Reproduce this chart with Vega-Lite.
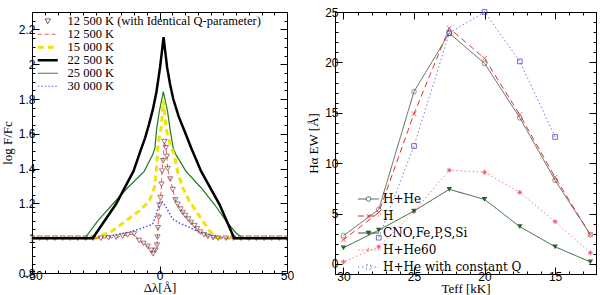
{
  "$schema": "https://vega.github.io/schema/vega-lite/v6.json",
  "padding": {"left": 0, "top": 5, "right": 3, "bottom": 0},
  "resolve": {"scale": {"color": "independent", "strokeDash": "independent", "shape": "independent", "stroke": "independent"}, "legend": {"color": "independent"}},
  "datasets": {
    "left": [
      {"s":"D","x":-50,"y":1.0},{"s":"D","x":-26.2,"y":1.0},{"s":"D","x":-17.1,"y":1.195},{"s":"D","x":-10.2,"y":1.385},{"s":"D","x":-7.5,"y":1.5},{"s":"D","x":-5.7,"y":1.574},{"s":"D","x":-4.2,"y":1.65},{"s":"D","x":-2.6,"y":1.74},{"s":"D","x":-1.2,"y":1.84},{"s":"D","x":0.2,"y":1.98},{"s":"D","x":1.0,"y":2.08},{"s":"D","x":1.6,"y":2.155},{"s":"D","x":2.2,"y":2.08},{"s":"D","x":3.0,"y":1.98},{"s":"D","x":4.2,"y":1.88},{"s":"D","x":5.4,"y":1.8},{"s":"D","x":7.5,"y":1.7},{"s":"D","x":9.7,"y":1.62},{"s":"D","x":12.4,"y":1.52},{"s":"D","x":16.3,"y":1.385},{"s":"D","x":23.5,"y":1.195},{"s":"D","x":29.3,"y":1.0},{"s":"D","x":50,"y":1.0},
      {"s":"E","x":-50,"y":1.0},{"s":"E","x":-29.6,"y":1.0},{"s":"E","x":-28.2,"y":1.02},{"s":"E","x":-24.2,"y":1.1},{"s":"E","x":-18.4,"y":1.195},{"s":"E","x":-12.5,"y":1.29},{"s":"E","x":-6,"y":1.384},{"s":"E","x":-2.7,"y":1.479},{"s":"E","x":-1.8,"y":1.517},{"s":"E","x":-1.1,"y":1.63},{"s":"E","x":-0.1,"y":1.726},{"s":"E","x":1.5,"y":1.843},{"s":"E","x":3.2,"y":1.726},{"s":"E","x":4.1,"y":1.63},{"s":"E","x":5.4,"y":1.517},{"s":"E","x":6.5,"y":1.479},{"s":"E","x":10.4,"y":1.384},{"s":"E","x":16.3,"y":1.29},{"s":"E","x":21.5,"y":1.195},{"s":"E","x":26.1,"y":1.1},{"s":"E","x":30,"y":1.03},{"s":"E","x":32.7,"y":1.0},{"s":"E","x":50,"y":1.0},
      {"s":"C","x":-50,"y":1.0},{"s":"C","x":-25,"y":1.0},{"s":"C","x":-23.5,"y":1.01},{"s":"C","x":-18.3,"y":1.044},{"s":"C","x":-13.1,"y":1.1},{"s":"C","x":-7.9,"y":1.157},{"s":"C","x":-4.0,"y":1.214},{"s":"C","x":-2.0,"y":1.29},{"s":"C","x":-1.2,"y":1.4},{"s":"C","x":-0.5,"y":1.55},{"s":"C","x":0.6,"y":1.63},{"s":"C","x":1.6,"y":1.79},{"s":"C","x":2.6,"y":1.63},{"s":"C","x":4.0,"y":1.55},{"s":"C","x":5.8,"y":1.479},{"s":"C","x":7.1,"y":1.384},{"s":"C","x":9.1,"y":1.29},{"s":"C","x":11.7,"y":1.214},{"s":"C","x":14.3,"y":1.157},{"s":"C","x":16.9,"y":1.1},{"s":"C","x":19.5,"y":1.044},{"s":"C","x":22.2,"y":1.006},{"s":"C","x":24,"y":1.0},{"s":"C","x":50,"y":1.0},
      {"s":"F","x":-50,"y":1.0},{"s":"F","x":-30,"y":1.0},{"s":"F","x":-21,"y":1.008},{"s":"F","x":-15.8,"y":1.024},{"s":"F","x":-11.8,"y":1.035},{"s":"F","x":-7.9,"y":1.053},{"s":"F","x":-2.7,"y":1.08},{"s":"F","x":-1.2,"y":1.14},{"s":"F","x":0,"y":1.2},{"s":"F","x":1.0,"y":1.21},{"s":"F","x":2.5,"y":1.18},{"s":"F","x":5.2,"y":1.11},{"s":"F","x":8,"y":1.085},{"s":"F","x":10.4,"y":1.072},{"s":"F","x":15.6,"y":1.034},{"s":"F","x":20.9,"y":1.015},{"s":"F","x":25,"y":1.003},{"s":"F","x":30,"y":1.0},{"s":"F","x":50,"y":1.0}
    ],
    "tri": [
      {"x":-50,"y":1},{"x":-47,"y":1},{"x":-44,"y":1},{"x":-41,"y":1},{"x":-38,"y":1},{"x":-35,"y":1},{"x":-32,"y":1},{"x":-29,"y":1},{"x":-26,"y":1},{"x":-23,"y":1},{"x":-20,"y":1.002},{"x":-17,"y":1.005},{"x":-14.5,"y":1.012},{"x":-12.5,"y":1.019},{"x":-10,"y":1.024},{"x":-8,"y":0.987},{"x":-6.3,"y":0.97},{"x":-4.6,"y":0.953},{"x":-3.3,"y":0.93},{"x":-2.5,"y":0.91},{"x":-1.6,"y":0.93},{"x":-1.0,"y":0.96},{"x":-0.8,"y":1.006},{"x":-0.6,"y":1.06},{"x":-0.3,"y":1.12},{"x":0,"y":1.19},{"x":0.4,"y":1.233},{"x":0.8,"y":1.31},{"x":1.0,"y":1.385},{"x":1.4,"y":1.445},{"x":1.9,"y":1.555},{"x":2.5,"y":1.52},{"x":2.9,"y":1.47},{"x":3.2,"y":1.4},{"x":4.2,"y":1.34},{"x":5.2,"y":1.28},{"x":6.2,"y":1.22},{"x":7.1,"y":1.195},{"x":8.2,"y":1.167},{"x":9.1,"y":1.148},{"x":10.1,"y":1.13},{"x":11.3,"y":1.11},{"x":12.4,"y":1.09},{"x":13.7,"y":1.072},{"x":14.7,"y":1.053},{"x":16,"y":1.035},{"x":17.5,"y":1.02},{"x":19,"y":1.01},{"x":21,"y":1.003},{"x":23,"y":1},{"x":26,"y":1},{"x":29,"y":1},{"x":32,"y":1},{"x":35,"y":1},{"x":38,"y":1},{"x":41,"y":1},{"x":44,"y":1},{"x":47,"y":1},{"x":50,"y":1}
    ],
    "right": [
      {"s":"H+He","t":30,"ew":2.8},{"s":"H+He","t":27.5,"ew":5.4},{"s":"H+He","t":25,"ew":17.1},{"s":"H+He","t":22.5,"ew":22.9},{"s":"H+He","t":20,"ew":19.9},{"s":"H+He","t":17.5,"ew":14.5},{"s":"H+He","t":15,"ew":8.3},{"s":"H+He","t":12.5,"ew":2.9},
      {"s":"H","t":30,"ew":2.4},{"s":"H","t":27.5,"ew":5.1},{"s":"H","t":25,"ew":14.9},{"s":"H","t":22.5,"ew":23.4},{"s":"H","t":20,"ew":20.4},{"s":"H","t":17.5,"ew":14.8},{"s":"H","t":15,"ew":8.6},{"s":"H","t":12.5,"ew":2.9},
      {"s":"CNO,Fe,P,S,Si","t":30,"ew":1.6},{"s":"CNO,Fe,P,S,Si","t":27.5,"ew":3.35},{"s":"CNO,Fe,P,S,Si","t":25,"ew":5.25},{"s":"CNO,Fe,P,S,Si","t":22.5,"ew":7.4},{"s":"CNO,Fe,P,S,Si","t":20,"ew":6.4},{"s":"CNO,Fe,P,S,Si","t":17.5,"ew":3.7},{"s":"CNO,Fe,P,S,Si","t":15,"ew":1.7},{"s":"CNO,Fe,P,S,Si","t":12.5,"ew":0.2},
      {"s":"H+He60","t":30,"ew":0.2},{"s":"H+He60","t":27.5,"ew":1.7},{"s":"H+He60","t":25,"ew":5.2},{"s":"H+He60","t":22.5,"ew":9.3},{"s":"H+He60","t":20,"ew":9.1},{"s":"H+He60","t":17.5,"ew":7.1},{"s":"H+He60","t":15,"ew":4.2},{"s":"H+He60","t":12.5,"ew":1.1},
      {"s":"H+He with constant Q","t":27.5,"ew":2.6},{"s":"H+He with constant Q","t":25,"ew":11.7},{"s":"H+He with constant Q","t":22.5,"ew":22.9},{"s":"H+He with constant Q","t":20,"ew":25.0},{"s":"H+He with constant Q","t":17.5,"ew":20.1},{"s":"H+He with constant Q","t":15,"ew":12.6}
    ]
  },
  "hconcat": [
    {
      "width": 255,
      "height": 261,
      "resolve": {"axis": {"x": "independent", "y": "independent"}},
      "layer": [
        {
          "data": {"name": "left"},
          "transform": [{"filter": "datum.s === 'E'"}],
          "mark": {"type": "line", "clip": true, "color": "#1f7a1f", "strokeWidth": 1.2},
          "encoding": {
            "x": {"field": "x", "type": "quantitative", "scale": {"domain": [-50, 50], "nice": false, "zero": false},
              "axis": {"title": "Δλ[Å]", "values": [-50,-45,-40,-35,-30,-25,-20,-15,-10,-5,0,5,10,15,20,25,30,35,40,45,50], "labelOverlap": false,
                "labelExpr": "datum.value % 50 === 0 ? datum.label : ''",
                "tickSize": {"condition": {"test": "datum.value % 50 === 0", "value": -7}, "value": -3},
                "labelPadding": 4, "titlePadding": -4}},
            "y": {"field": "y", "type": "quantitative", "scale": {"domain": [0.8, 2.3], "nice": false, "zero": false},
              "axis": {"title": "log F/Fc", "values": [0.8,1,1.2,1.4,1.6,1.8,2,2.2], "labelOverlap": false, "format": ".1~f",
                "tickSize": -7, "labelPadding": 4, "titlePadding": 4}},
            "order": {"field": "x", "type": "quantitative"}
          }
        },
        {
          "data": {"name": "left"},
          "transform": [{"filter": "datum.s === 'F'"}],
          "mark": {"type": "line", "clip": true, "color": "#5555dd", "strokeWidth": 1.5, "strokeDash": [1.5, 2]},
          "encoding": {
            "x": {"field": "x", "type": "quantitative", "axis": null},
            "y": {"field": "y", "type": "quantitative", "axis": {"orient": "left", "title": null, "labels": false, "domain": false, "tickSize": -3,
              "values": [0.85,0.9,0.95,1.05,1.1,1.15,1.25,1.3,1.35,1.45,1.5,1.55,1.65,1.7,1.75,1.85,1.9,1.95,2.05,2.1,2.15,2.25]}},
            "order": {"field": "x", "type": "quantitative"}
          }
        },
        {
          "data": {"name": "left"},
          "transform": [{"filter": "datum.s === 'C'"}],
          "mark": {"type": "line", "clip": true, "color": "#f2e200", "strokeWidth": 3, "strokeDash": [6, 4]},
          "encoding": {
            "x": {"field": "x", "type": "quantitative", "axis": null},
            "y": {"field": "y", "type": "quantitative", "axis": null},
            "order": {"field": "x", "type": "quantitative"}
          }
        },
        {
          "data": {"name": "tri"},
          "mark": {"type": "line", "clip": true, "color": "#e06060", "strokeDash": [4,3], "strokeWidth": 1},
          "encoding": {
            "x": {"field": "x", "type": "quantitative", "scale": {"domain": [-50, 50], "nice": false, "zero": false},
              "axis": {"orient": "top", "title": null, "labels": false, "values": [-50,-45,-40,-35,-30,-25,-20,-15,-10,-5,0,5,10,15,20,25,30,35,40,45,50],
                "tickSize": {"condition": {"test": "datum.value % 50 === 0", "value": -7}, "value": -3}}},
            "y": {"field": "y", "type": "quantitative", "scale": {"domain": [0.8, 2.3], "nice": false, "zero": false},
              "axis": {"orient": "right", "title": null, "labels": false, "values": [0.8,0.85,0.9,0.95,1,1.05,1.1,1.15,1.2,1.25,1.3,1.35,1.4,1.45,1.5,1.55,1.6,1.65,1.7,1.75,1.8,1.85,1.9,1.95,2,2.05,2.1,2.15,2.2,2.25,2.3],
                "tickSize": {"condition": {"test": "abs(datum.value*5 - round(datum.value*5)) < 0.001", "value": -7}, "value": -3}}},
            "order": {"field": "x", "type": "quantitative"}
          }
        },
        {
          "data": {"name": "tri"},
          "mark": {"type": "point", "shape": "triangle-down", "filled": false, "color": "#7a4040", "size": 28, "strokeWidth": 1, "clip": true},
          "encoding": {
            "x": {"field": "x", "type": "quantitative", "axis": null},
            "y": {"field": "y", "type": "quantitative", "axis": null}
          }
        },
        {
          "data": {"name": "left"},
          "transform": [{"filter": "datum.s === 'D'"}],
          "mark": {"type": "line", "clip": true, "strokeWidth": 2.5},
          "encoding": {
            "x": {"field": "x", "type": "quantitative", "axis": null},
            "y": {"field": "y", "type": "quantitative", "axis": null},
            "color": {"field": "s", "type": "nominal",
              "scale": {"domain": ["A","B","C","D","E","F"], "range": ["#7a4040","#e06060","#f2e200","#000000","#1f7a1f","#5555dd"]},
              "legend": {
                "orient": "none", "legendX": 9.5, "legendY": 3, "title": null,
                "labelFont": "Liberation Serif", "labelFontSize": 12.5, "labelLimit": 400, "rowPadding": -5.9, "symbolSize": 25, "labelOffset": 13.5,
                "labelExpr": "datum.value === 'A' ? '12 500 K (with Identical Q-parameter)' : datum.value === 'B' ? '12 500 K' : datum.value === 'C' ? '15 000 K' : datum.value === 'D' ? '22 500 K' : datum.value === 'E' ? '25 000 K' : '30 000 K'",
                "encode": {"symbols": {"update": {
                  "shape": {"signal": "datum.value === 'A' ? 'triangle-down' : 'stroke'"},
                  "size": {"signal": "datum.value === 'A' ? 30 : 400"},
                  "stroke": {"signal": "datum.value === 'A' ? '#7a4040' : datum.value === 'B' ? '#e06060' : datum.value === 'C' ? '#f2e200' : datum.value === 'D' ? '#000000' : datum.value === 'E' ? '#1f7a1f' : '#5555dd'"},
                  "opacity": {"value": 1},
                  "strokeDash": {"signal": "datum.value === 'B' ? [4,3] : datum.value === 'C' ? [6,4] : datum.value === 'F' ? [1.5,2] : [1,0]"},
                  "strokeWidth": {"signal": "datum.value === 'C' ? 3 : datum.value === 'D' ? 2.5 : 1"}
                }}}
              }},
            "order": {"field": "x", "type": "quantitative"}
          }
        }
      ]
    },
    {
      "width": 261,
      "height": 262,
      "resolve": {"axis": {"x": "independent", "y": "independent"}},
      "layer": [
        {
          "data": {"name": "right"},
          "mark": {"type": "line", "strokeWidth": 1},
          "encoding": {
            "x": {"field": "t", "type": "quantitative", "scale": {"domain": [12.1, 30.6], "reverse": true, "nice": false, "zero": false},
              "axis": {"title": "Teff [kK]", "values": [13,14,15,16,17,18,19,20,21,22,23,24,25,26,27,28,29,30], "labelOverlap": false,
                "labelExpr": "datum.value % 5 === 0 ? datum.label : ''",
                "tickSize": {"condition": {"test": "datum.value % 5 === 0", "value": -7}, "value": -3},
                "labelPadding": 4, "titlePadding": -4}},
            "y": {"field": "ew", "type": "quantitative", "scale": {"domain": [-1, 25], "nice": false, "zero": false},
              "axis": {"title": "Hα EW [Å]", "values": [-1,0,1,2,3,4,5,6,7,8,9,10,11,12,13,14,15,16,17,18,19,20,21,22,23,24,25], "labelOverlap": false,
                "labelExpr": "datum.value % 5 === 0 ? datum.label : ''",
                "tickSize": {"condition": {"test": "datum.value % 5 === 0", "value": -7}, "value": -3},
                "labelPadding": 4, "titlePadding": 4}},
            "color": {"field": "s", "type": "nominal",
              "scale": {"domain": ["H+He","H","CNO,Fe,P,S,Si","H+He60","H+He with constant Q"], "range": ["#556655","#e03030","#2e5e2e","#f08080","#7878e0"]},
              "legend": {
                "orient": "none", "legendX": 22.5, "legendY": 176, "title": null,
                "labelFont": "DejaVu Serif", "labelFontSize": 12, "labelLimit": 400, "rowPadding": -3, "symbolSize": 16, "labelOffset": 3.5,
                "encode": {"symbols": {"update": {
                  "shape": {"signal": "datum.value === 'H+He' ? 'M-1,0L-0.22,0M0.22,0L1,0M-0.22,0A0.22,0.22 0 1,1 0.22,0A0.22,0.22 0 1,1 -0.22,0' : datum.value === 'H' ? 'M-1,0L1,0M-0.16,-0.16L0.16,0.16M-0.16,0.16L0.16,-0.16' : datum.value === 'CNO,Fe,P,S,Si' ? 'M-1,0L1,0M-0.22,-0.18L0.22,-0.18L0,0.2Z' : datum.value === 'H+He60' ? 'M-1,0L1,0M-0.18,0L0.18,0M0,-0.18L0,0.18M-0.13,-0.13L0.13,0.13M-0.13,0.13L0.13,-0.13' : 'M-1,0L-0.2,0M0.2,0L1,0M-0.2,-0.2L0.2,-0.2L0.2,0.2L-0.2,0.2Z'"},
                  "size": {"value": 440},
                  "fill": {"signal": "datum.value === 'CNO,Fe,P,S,Si' ? '#2e5e2e' : 'transparent'"},
                  "stroke": {"signal": "datum.value === 'H+He' ? '#555555' : datum.value === 'H' ? '#e03030' : datum.value === 'CNO,Fe,P,S,Si' ? '#2e5e2e' : datum.value === 'H+He60' ? '#e04050' : '#4040d0'"},
                  "opacity": {"value": 1},
                  "strokeDash": {"signal": "datum.value === 'H' ? [5,3] : datum.value === 'H+He60' || datum.value === 'H+He with constant Q' ? [1.5,2.5] : [1,0]"},
                  "strokeWidth": {"value": 1}
                }}}
              }},
            "strokeDash": {"field": "s", "type": "nominal", "legend": null,
              "scale": {"domain": ["H+He","H","CNO,Fe,P,S,Si","H+He60","H+He with constant Q"], "range": [[1,0],[6,4],[1,0],[1.5,2.5],[1.5,2.5]]}},
            "order": {"field": "t", "type": "quantitative"}
          }
        },
        {
          "data": {"name": "right"},
          "transform": [{"filter": "datum.s !== 'CNO,Fe,P,S,Si'"}],
          "mark": {"type": "point", "filled": false, "strokeWidth": 1, "size": 22},
          "encoding": {
            "x": {"field": "t", "type": "quantitative", "scale": {"domain": [12.1, 30.6], "reverse": true, "nice": false, "zero": false},
              "axis": {"orient": "top", "title": null, "labels": false, "values": [13,14,15,16,17,18,19,20,21,22,23,24,25,26,27,28,29,30],
                "tickSize": {"condition": {"test": "datum.value % 5 === 0", "value": -7}, "value": -3}}},
            "y": {"field": "ew", "type": "quantitative", "scale": {"domain": [-1, 25], "nice": false, "zero": false},
              "axis": {"orient": "right", "title": null, "labels": false, "values": [-1,0,1,2,3,4,5,6,7,8,9,10,11,12,13,14,15,16,17,18,19,20,21,22,23,24,25],
                "tickSize": {"condition": {"test": "datum.value % 5 === 0", "value": -7}, "value": -3}}},
            "shape": {"field": "s", "type": "nominal", "legend": null,
              "scale": {"domain": ["H+He","H","H+He60","H+He with constant Q"], "range": ["circle","M-1,-1L1,1M-1,1L1,-1","M-1,0L1,0M0,-1L0,1M-0.7,-0.7L0.7,0.7M-0.7,0.7L0.7,-0.7","square"]}},
            "stroke": {"field": "s", "type": "nominal", "legend": null,
              "scale": {"domain": ["H+He","H","H+He60","H+He with constant Q"], "range": ["#666666","#e03030","#e02040","#3030d0"]}}
          }
        },
        {
          "data": {"name": "right"},
          "transform": [{"filter": "datum.s === 'CNO,Fe,P,S,Si'"}],
          "mark": {"type": "point", "filled": true, "shape": "triangle-down", "size": 30, "color": "#2e5e2e", "opacity": 1},
          "encoding": {
            "x": {"field": "t", "type": "quantitative", "axis": null},
            "y": {"field": "ew", "type": "quantitative", "axis": null}
          }
        }
      ]
    }
  ],
  "config": {
    "view": {"stroke": "black", "strokeWidth": 1},
    "concat": {"spacing": 12},
    "axis": {"grid": false, "domainColor": "black", "tickColor": "black", "labelFont": "Liberation Sans", "labelFontSize": 12, "labelColor": "black", "labelOverlap": false,
      "titleFont": "Liberation Serif", "titleFontSize": 13, "titleFontWeight": "normal", "titleColor": "black", "labelFlush": false}
  }
}
